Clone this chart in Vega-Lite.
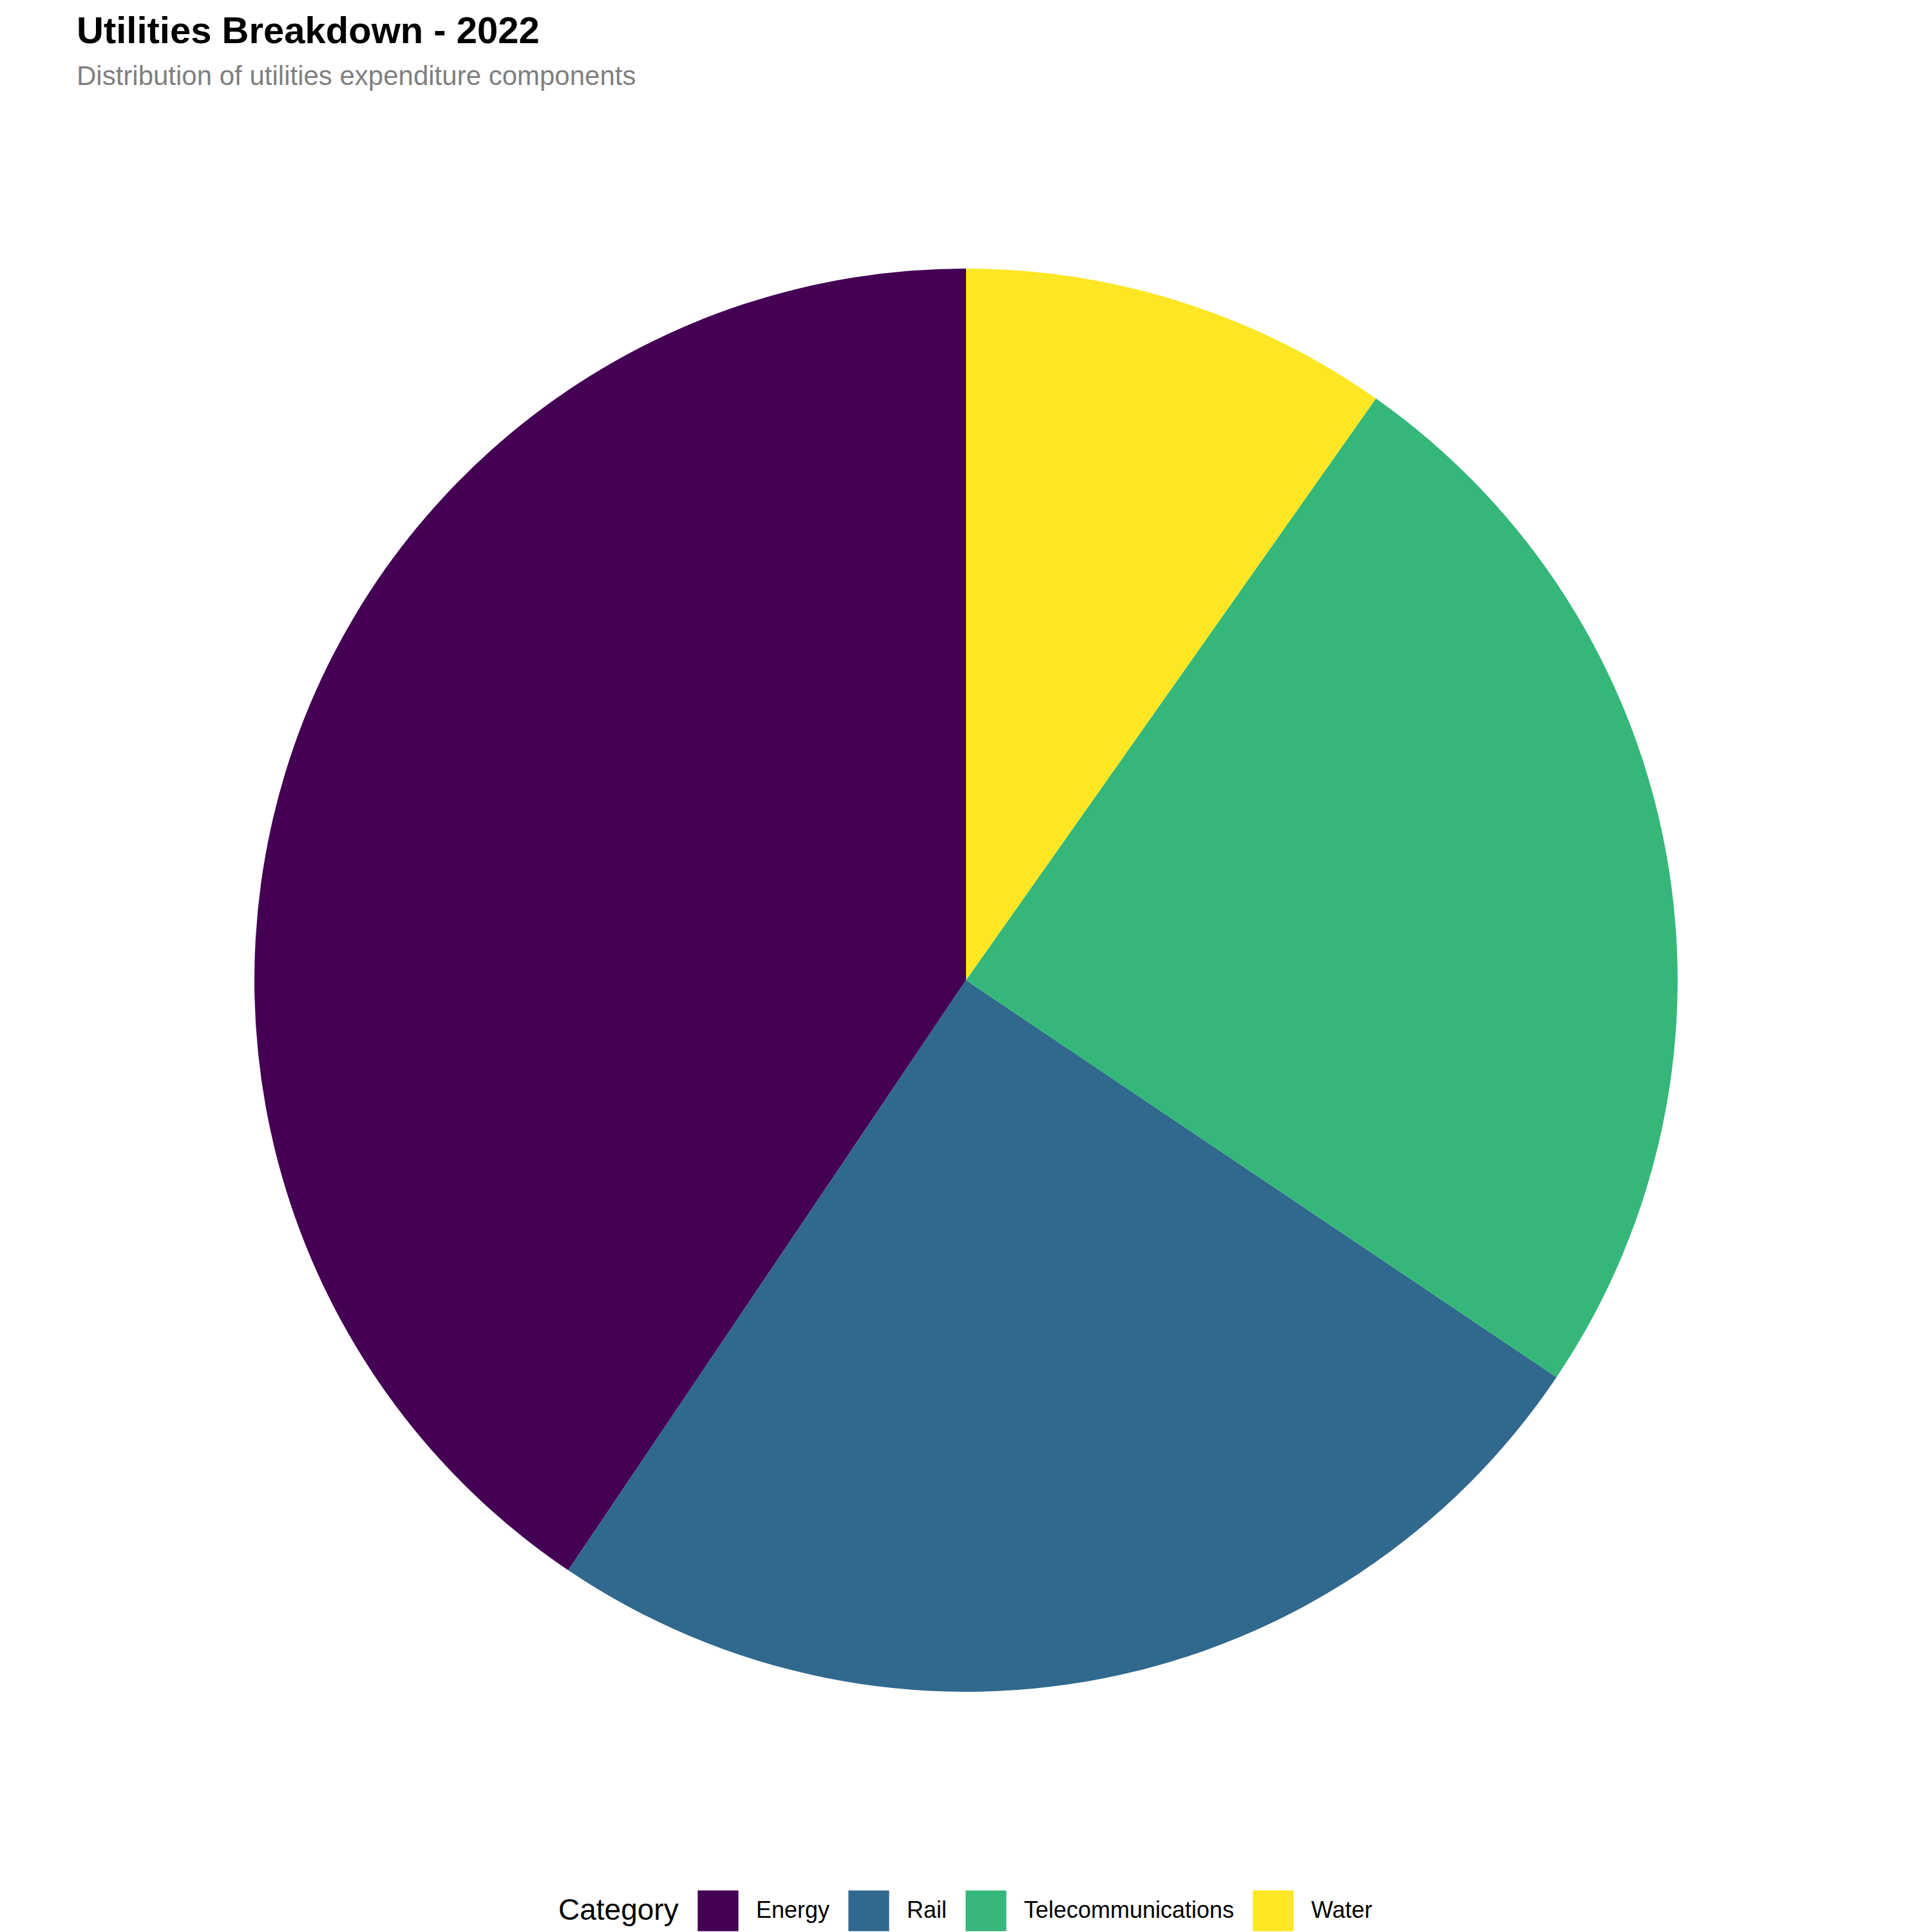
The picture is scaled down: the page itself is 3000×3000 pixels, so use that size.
{
  "$schema": "https://vega.github.io/schema/vega-lite/v6.json",
  "width": 3000,
  "height": 2644,
  "autosize": "none",
  "padding": {"top": 200, "left": 0, "right": 0, "bottom": 156},
  "background": "white",
  "title": {
    "text": "Utilities Breakdown - 2022",
    "subtitle": "Distribution of utilities expenditure components",
    "anchor": "start",
    "dx": 119,
    "offset": 60,
    "font": "Liberation Sans",
    "fontSize": 58,
    "fontWeight": "bold",
    "color": "#000000",
    "subtitleFont": "Liberation Sans",
    "subtitleFontSize": 42,
    "subtitleColor": "#7f7f7f",
    "subtitlePadding": 20
  },
  "data": {
    "values": [
      {"category": "Energy", "share": 40.56},
      {"category": "Rail", "share": 25.02},
      {"category": "Telecommunications", "share": 24.65},
      {"category": "Water", "share": 9.77}
    ]
  },
  "mark": {"type": "arc", "outerRadius": 1105},
  "encoding": {
    "theta": {"field": "share", "type": "quantitative", "stack": true},
    "order": {"field": "category", "sort": "descending"},
    "color": {
      "field": "category",
      "type": "nominal",
      "title": "Category",
      "scale": {
        "domain": ["Energy", "Rail", "Telecommunications", "Water"],
        "range": ["#440154", "#31688E", "#35B779", "#FDE725"]
      },
      "legend": {
        "orient": "none",
        "direction": "horizontal",
        "legendX": 867,
        "legendY": 2735,
        "titleOrient": "left",
        "titleFont": "Liberation Sans",
        "titleFontSize": 46,
        "titleFontWeight": "normal",
        "titleColor": "#000000",
        "titlePadding": 29,
        "titleBaseline": "middle",
        "titleLimit": 2000,
        "labelFont": "Liberation Sans",
        "labelFontSize": 36,
        "labelColor": "#000000",
        "labelOffset": 27,
        "labelLimit": 2000,
        "symbolType": "square",
        "symbolSize": 4000,
        "symbolStrokeWidth": 0,
        "columnPadding": 28
      }
    }
  }
}
